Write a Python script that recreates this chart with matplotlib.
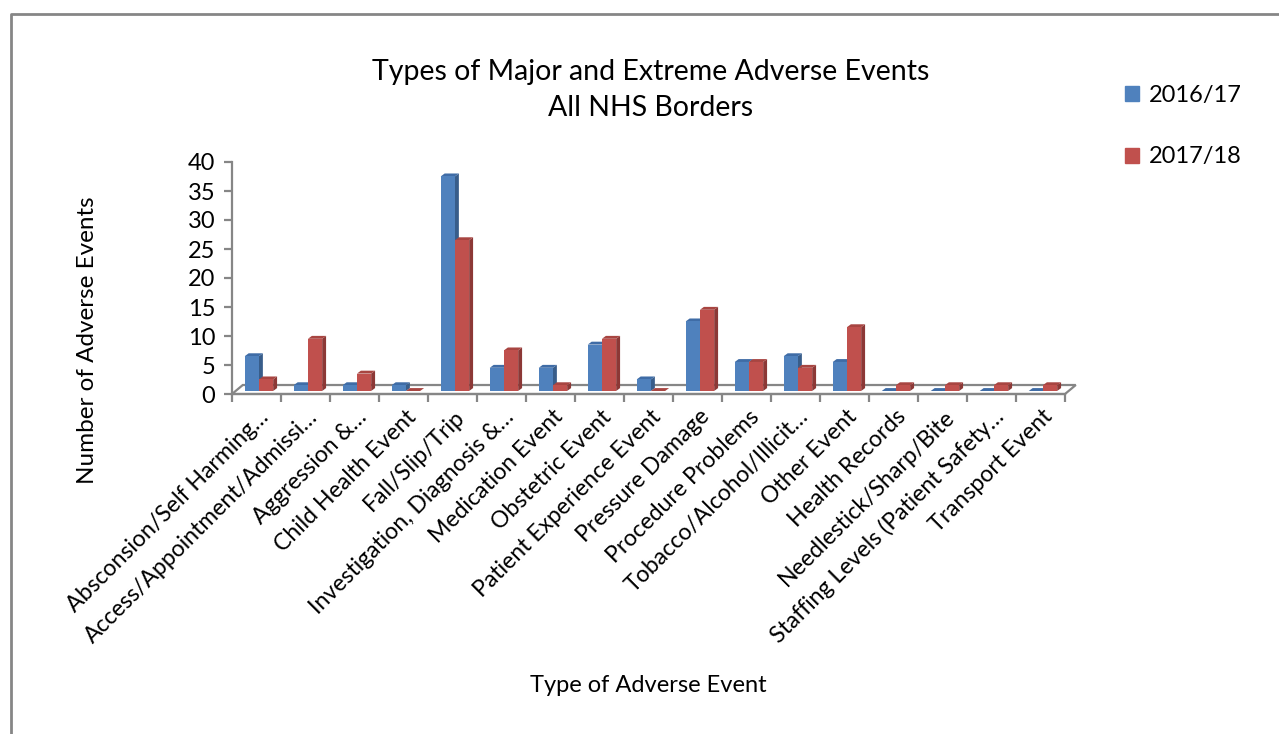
import numpy as np
import matplotlib.pyplot as plt
from matplotlib.patches import Polygon
from matplotlib.lines import Line2D
import matplotlib.transforms as mtransforms

plt.rcParams['font.family'] = ['Lato', 'DejaVu Sans']

categories = ['Absconsion/Self Harming…', 'Access/Appointment/Admissi…', 'Aggression &…',
              'Child Health Event', 'Fall/Slip/Trip', 'Investigation, Diagnosis &…',
              'Medication Event', 'Obstetric Event', 'Patient Experience Event',
              'Pressure Damage', 'Procedure Problems', 'Tobacco/Alcohol/Illicit…',
              'Other Event', 'Health Records', 'Needlestick/Sharp/Bite',
              'Staffing Levels (Patient Safety…', 'Transport Event']
y2016 = [6, 1, 1, 1, 37, 4, 4, 8, 2, 12, 5, 6, 5, 0, 0, 0, 0]
y2017 = [2, 9, 3, 0, 26, 7, 1, 9, 0, 14, 5, 4, 11, 1, 1, 1, 1]

# face colours: front, side, top
blue = ('#4F81BD', '#385D8A', '#3F6CA6')
red = ('#C0504D', '#8C3836', '#A84541')
grey = '#868686'

fig = plt.figure(figsize=(12.79, 7.34), dpi=100)
W, H = 1279, 734
ax = fig.add_axes([232 / W, 1 - 394 / H, (1065 - 232) / W, (394 - 162) / H])
n = len(categories)
ax.set_xlim(0, n)
ax.set_ylim(0, 40)

# pseudo 3-D floor
fdx, fdy = 0.22, 1.55
ax.add_patch(Polygon([(0, 0), (n, 0), (n + fdx, fdy), (fdx, fdy)], closed=True,
                     facecolor='white', edgecolor=grey, lw=1.6, clip_on=False, zorder=1))

bw = 0.29
ox, oy = 0.05, 0.52   # bars sit midway into the floor
dx, dy = 0.08, 0.5    # bar depth


def bar3d(x0, h, cols):
    y0 = oy
    y1 = oy + h
    front = [(x0, y0), (x0 + bw, y0), (x0 + bw, y1), (x0, y1)]
    side = [(x0 + bw, y0), (x0 + bw + dx, y0 + dy), (x0 + bw + dx, y1 + dy), (x0 + bw, y1)]
    top = [(x0, y1), (x0 + bw, y1), (x0 + bw + dx, y1 + dy), (x0 + dx, y1 + dy)]
    for pts, c in ((side, cols[1]), (top, cols[2]), (front, cols[0])):
        ax.add_patch(Polygon(pts, closed=True, facecolor=c, edgecolor='none',
                             clip_on=False, zorder=3))


for i in range(n):
    c = i + 0.5 + ox
    bar3d(c - bw, y2016[i], blue)
    bar3d(c, y2017[i], red)

for s in ('top', 'right', 'bottom'):
    ax.spines[s].set_visible(False)
ax.spines['left'].set_color(grey)
ax.spines['left'].set_linewidth(1.6)
ax.add_line(Line2D([0, n], [0, 0], color=grey, lw=1.6, clip_on=False, zorder=2))

ax.set_yticks(np.arange(0, 41, 5))
ax.tick_params(axis='y', direction='out', length=6, width=1.6, color=grey,
               labelsize=17, pad=6)
ax.set_xticks(np.arange(0, n + 1))
ax.set_xticklabels([])
ax.tick_params(axis='x', which='major', direction='out', length=6, width=1.6, color=grey)
ax.set_xticks(np.arange(n) + 0.5, minor=True)
ax.set_xticklabels(categories, minor=True, rotation=45, ha='right', va='center',
                   rotation_mode='anchor', fontsize=16.6)
ax.tick_params(axis='x', which='minor', length=0, pad=14)
shift = mtransforms.ScaledTranslation(9 / 100, 0, fig.dpi_scale_trans)
for lab in ax.get_xticklabels(minor=True):
    lab.set_transform(lab.get_transform() + shift)

ax.set_facecolor('none')

fig.text(651 / W, 1 - 90 / H, 'Types of Major and Extreme Adverse Events\nAll NHS Borders',
         ha='center', va='center', fontsize=20.5, linespacing=1.45)
fig.text(88 / W, 1 - 340 / H, 'Number of Adverse Events', rotation=90,
         ha='center', va='center', fontsize=17.5)
fig.text(648 / W, 1 - 685 / H, 'Type of Adverse Event', ha='center', va='center', fontsize=17)

handles = [plt.Rectangle((0, 0), 1, 1, color=blue[0]), plt.Rectangle((0, 0), 1, 1, color=red[0])]
fig.legend(handles, ['2016/17', '2017/18'], loc='upper left',
           bbox_to_anchor=(1104 / W, 1 - 64 / H), frameon=False, fontsize=17,
           handlelength=0.6, handleheight=0.6, handletextpad=0.4, labelspacing=1.7)

# outer chart border
fig.add_artist(Line2D([11 / W, 11 / W, 1], [0, 1 - 14 / H, 1 - 14 / H],
                      transform=fig.transFigure, color=grey, lw=2))

fig.savefig('out.png', dpi=100)
